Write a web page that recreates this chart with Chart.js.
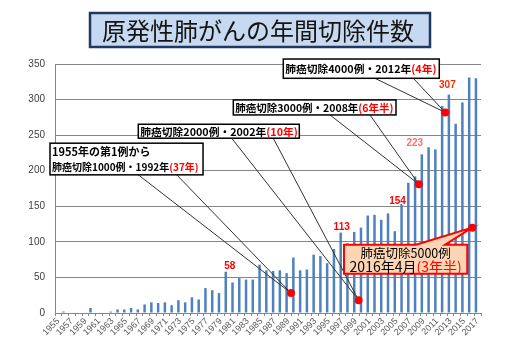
<!DOCTYPE html>
<html><head><meta charset="utf-8">
<script src="https://cdn.jsdelivr.net/npm/chart.js@4.4.0/dist/chart.umd.min.js"></script>
<style>html,body{margin:0;padding:0;background:#fff}#wrap{width:520px;height:360px;position:relative}</style>
</head><body><div id="wrap"><canvas id="c" width="520" height="360"></canvas></div>
<script>
// ---------------- data ----------------
const years = ['1955','1956','1957','1958','1959','1960','1961','1962','1963','1964',
  '1965','1966','1967','1968','1969','1970','1971','1972','1973','1974',
  '1975','1976','1977','1978','1979','1980','1981','1982','1983','1984',
  '1985','1986','1987','1988','1989','1990','1991','1992','1993','1994',
  '1995','1996','1997','1998','1999','2000','2001','2002','2003','2004',
  '2005','2006','2007','2008','2009','2010','2011','2012','2013','2014',
  '2015','2016','2017'];
const cases = [0,2,0,0,0,7,0,0,2,5,
  5,7,5,12,15,14,15,11,18,15,
  22,19,35,32,28,58,43,49,47,47,
  68,60,59,60,56,78,60,61,82,80,
  70,90,113,98,114,120,137,138,131,140,
  115,154,183,192,223,233,230,291,307,266,
  296,331,330];
const yTicks = [0,50,100,150,200,250,300,350];
const labeledYears = ['1980','1997','2006','2009','2013'];
const milestoneYear = [1989.4, 1999.4, 2008.3, 2012.2, 2016.2];
const milestoneValue = [28, 18, 181, 282, 120];
const titleText = '原発性肺がんの年間切除件数';
const calloutText = [
  [[['1955年の第1例から', 0]], [['肺癌切除1000例・1992年', 0], ['(37年)', 1]]],
  [[['肺癌切除2000例・2002年', 0], ['(10年)', 1]]],
  [[['肺癌切除3000例・2008年', 0], ['(6年半)', 1]]],
  [[['肺癌切除4000例・2012年', 0], ['(4年)', 1]]],
  [[['肺癌切除5000例', 0]], [['2016年4月', 0], ['(3年半)', 1]]]
];

// ---------------- layout / styles (not data) ----------------
const calloutLayout = [
  {box:[1953.76,238.7,1976.39,194.2], base:[1966.82,1972.50], side:'bottom', kind:'plain'},
  {box:[1966.82,265.3,1990.63,245.7], base:[1980.63,1986.78], side:'bottom', kind:'plain'},
  {box:[1980.87,299.5,2004.93,278.4], base:[1995.17,2001.08], side:'bottom', kind:'plain'},
  {box:[1988.26,357.0,2011.33,329.9], base:[2001.82,2007.49], side:'bottom', kind:'plain'},
  {box:[1997.24,95.9,2015.47,55.2],  base:[2007.89,2012.18], side:'top', kind:'accent'}
];
const labelStyle = [
  {color:'#ff0000', dx:4,  dy:5},
  {color:'#ff0000', dx:1,  dy:5},
  {color:'#ff0000', dx:-4, dy:2},
  {color:'#ff6f6f', dx:-7, dy:11.5},
  {color:'#ff2a00', dx:-1.5, dy:9.6}
];
const CJK = '"Noto Sans CJK JP", "Noto Sans", sans-serif';
const LAT = '"Liberation Sans", Arial, sans-serif';

function segWidth(ctx, segs) { return segs.reduce((s, g) => s + ctx.measureText(g[0]).width, 0); }

function drawLine(ctx, segs, x, y, fontFn, size, maxW) {
  let s = size;
  ctx.font = fontFn(s);
  while (segWidth(ctx, segs) > maxW && s > 6) { s -= 0.25; ctx.font = fontFn(s); }
  let cx = x;
  segs.forEach(g => {
    ctx.fillStyle = g[1] ? '#ff0000' : '#000000';
    ctx.fillText(g[0], cx, y);
    cx += ctx.measureText(g[0]).width;
  });
}

const annot = {
  id: 'annot',
  beforeDraw(chart) {
    const ctx = chart.ctx;
    ctx.save(); ctx.fillStyle = '#fff'; ctx.fillRect(0, 0, chart.width, chart.height); ctx.restore();
  },
  afterDatasetDraw(chart, args) {
    if (args.index !== 0) return;
    const ctx = chart.ctx, xs = chart.scales.x2, ys = chart.scales.y;
    ctx.save();
    calloutLayout.forEach((L, k) => {
      const tx = xs.getPixelForValue(milestoneYear[k]);
      const ty = ys.getPixelForValue(milestoneValue[k]);
      const x1 = xs.getPixelForValue(L.box[0]), y1 = ys.getPixelForValue(L.box[1]);
      const x2 = xs.getPixelForValue(L.box[2]), y2 = ys.getPixelForValue(L.box[3]);
      const a = xs.getPixelForValue(L.base[0]), b = xs.getPixelForValue(L.base[1]);
      if (L.kind === 'accent') {
        ctx.beginPath();
        ctx.moveTo(x1, y1); ctx.lineTo(a, y1); ctx.lineTo(tx, ty); ctx.lineTo(b, y1);
        ctx.lineTo(x2, y1); ctx.lineTo(x2, y2); ctx.lineTo(x1, y2); ctx.closePath();
        ctx.fillStyle = '#fcd5b4'; ctx.fill();
        ctx.lineWidth = 2; ctx.strokeStyle = '#ff0000'; ctx.lineJoin = 'miter'; ctx.stroke();
        ctx.textBaseline = 'middle'; ctx.textAlign = 'left';
        const lines = calloutText[k];
        const h = y2 - y1;
        const sizes = [12.5, 14];
        lines.forEach((segs, i) => {
          const f = s => `${s}px ${CJK}`;
          ctx.font = f(sizes[i]);
          const w = Math.min(segWidth(ctx, segs), x2 - x1 - 4);
          const lx = (x1 + x2) / 2 - w / 2;
          drawLine(ctx, segs, lx, y1 + h * (i === 0 ? 0.29 : 0.75), f, sizes[i], x2 - x1 - 4);
        });
      } else {
        ctx.beginPath();
        ctx.moveTo(a, y2); ctx.lineTo(tx, ty); ctx.lineTo(b, y2);
        ctx.lineWidth = 1; ctx.strokeStyle = '#333'; ctx.stroke();
        ctx.fillStyle = '#fff';
        ctx.fillRect(x1, y1, x2 - x1, y2 - y1);
        ctx.lineWidth = 1.5; ctx.strokeStyle = '#000';
        ctx.strokeRect(x1, y1, x2 - x1, y2 - y1);
        ctx.textBaseline = 'middle'; ctx.textAlign = 'left';
        const lines = calloutText[k];
        const n = lines.length, h = y2 - y1;
        lines.forEach((segs, i) => {
          const cy = y1 + h * (i + 0.5) / n + 0.5;
          drawLine(ctx, segs, x1 + 2, cy, s => `bold ${s}px ${CJK}`, 11, x2 - x1 - 3);
        });
      }
    });
    ctx.restore();
  },
  afterDatasetsDraw(chart) {
    const ctx = chart.ctx, meta = chart.getDatasetMeta(0);
    ctx.save();
    ctx.textAlign = 'center'; ctx.textBaseline = 'middle';
    ctx.font = `bold 10px ${LAT}`;
    labeledYears.forEach((yr, k) => {
      const idx = years.indexOf(yr);
      const el = meta.data[idx];
      const st = labelStyle[k];
      const x = el.x + st.dx, y = el.y - st.dy;
      ctx.lineWidth = 2.5; ctx.strokeStyle = '#fff'; ctx.lineJoin = 'round';
      ctx.strokeText(String(cases[idx]), x, y);
      ctx.fillStyle = st.color;
      ctx.fillText(String(cases[idx]), x, y);
    });
    ctx.restore();
  },
  afterDraw(chart) {
    const ctx = chart.ctx;
    ctx.save();
    ctx.fillStyle = '#c6d9f0';
    ctx.fillRect(90, 13, 340, 34);
    ctx.lineWidth = 2.5; ctx.strokeStyle = '#1f3a60';
    ctx.strokeRect(90, 13, 340, 34);
    ctx.fillStyle = '#141414';
    ctx.font = `24px ${CJK}`;
    ctx.textAlign = 'center'; ctx.textBaseline = 'middle';
    ctx.fillText(titleText, 258, 31);
    ctx.restore();
  }
};

new Chart(document.getElementById('c'), {
  type: 'bar',
  data: {
    labels: years,
    datasets: [
      { type: 'bar', data: cases, backgroundColor: '#4f81bd', borderWidth: 0,
        barPercentage: 0.74, categoryPercentage: 1.0, order: 2, xAxisID: 'x', yAxisID: 'y' },
      { type: 'scatter', data: milestoneYear.map((x, i) => ({x: x, y: milestoneValue[i]})),
        xAxisID: 'x2', yAxisID: 'y', pointRadius: 4, pointBackgroundColor: '#ff0000',
        pointBorderWidth: 0, pointBorderColor: '#ff0000', showLine: false, order: 1 }
    ]
  },
  options: {
    responsive: false, animation: false, devicePixelRatio: 1,
    layout: { padding: { top: 64, right: 39, left: 0, bottom: 0 } },
    plugins: { legend: { display: false }, tooltip: { enabled: false } },
    scales: {
      x: {
        type: 'category', offset: true,
        grid: { display: true, drawOnChartArea: false, drawTicks: true, tickLength: 3, color: '#868686', offset: true },
        border: { display: true, color: '#868686', width: 1 },
        ticks: {
          autoSkip: false, maxRotation: 45, minRotation: 45, padding: 0,
          font: { family: LAT, size: 9 }, color: '#595959',
          callback: (v, i) => (i % 2 === 0 ? years[i] : '')
        },
        afterFit: s => { s.height = 47; }
      },
      x2: { type: 'linear', display: false, offset: false, min: 1954.5, max: 2017.5 },
      y: {
        min: 0, max: 350,
        grid: { color: '#868686', drawTicks: false, lineWidth: 1 },
        border: { display: true, color: '#868686', width: 1 },
        ticks: {
          stepSize: 50, padding: 10, color: '#404040', font: { family: LAT, size: 10 },
          callback: v => (yTicks.includes(v) ? String(v) : '')
        },
        afterFit: s => { s.width = 55; }
      }
    }
  },
  plugins: [annot]
});
</script>
</body></html>
